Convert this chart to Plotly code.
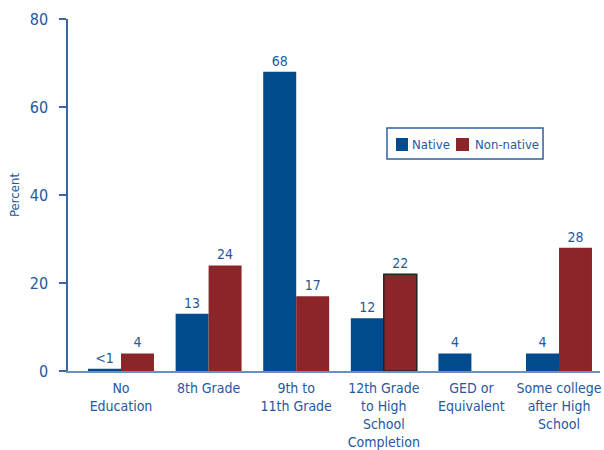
import plotly.graph_objects as go

categories = [
    "No<br>Education",
    "8th Grade",
    "9th to<br>11th Grade",
    "12th Grade<br>to High<br>School<br>Completion",
    "GED or<br>Equivalent",
    "Some college<br>after High<br>School",
]
native = [0.5, 13, 68, 12, 4, 4]
native_labels = ["<1", "13", "68", "12", "4", "4"]
non_native = [4, 24, 17, 22, None, 28]
non_native_labels = ["4", "24", "17", "22", "", "28"]
series_names = ["Native", "Non-native"]
y_ticks = [0, 20, 40, 60, 80]

BLUE = "#004a8d"
RED = "#8b2529"
TEXT = "#2458a0"
FONT = "DejaVu Sans Condensed, Liberation Sans Narrow, sans-serif"

xpos = list(range(len(categories)))

fig = go.Figure()
fig.add_trace(go.Bar(
    name=series_names[0], x=xpos, y=native, marker_color=BLUE,
    marker_line_width=0,
    text=native_labels, textposition="outside", cliponaxis=False,
    textfont=dict(color=TEXT, size=14, family=FONT),
))
fig.add_trace(go.Bar(
    name=series_names[1], x=xpos, y=non_native, marker_color=RED,
    marker_line=dict(width=[0, 0, 0, 1.5, 0, 0], color="#222222"),
    text=non_native_labels, textposition="outside", cliponaxis=False,
    textfont=dict(color=TEXT, size=14, family=FONT),
))

# Boxed legend: frame, colour swatches and series names
fig.add_shape(type="rect", xref="paper", yref="paper",
              x0=0.5996, x1=0.8929, y0=0.6023, y1=0.6903,
              line=dict(color="#2f5fa0", width=1.5), fillcolor="white")
swatches = [(0.6165, 0.6391, 0.6429, BLUE), (0.7293, 0.7538, 0.7613, RED)]
for name, (sx0, sx1, tx, col) in zip(series_names, swatches):
    fig.add_shape(type="rect", xref="paper", yref="paper",
                  x0=sx0, x1=sx1, y0=0.625, y1=0.6619,
                  line=dict(width=0), fillcolor=col)
    fig.add_annotation(xref="paper", yref="paper", x=tx, y=0.6435,
                       text=name, showarrow=False, xanchor="left", yanchor="middle",
                       font=dict(size=13, color=TEXT, family=FONT))

fig.update_layout(
    width=604, height=450,
    margin=dict(l=68, r=4, t=19, b=79),
    paper_bgcolor="white", plot_bgcolor="white",
    barmode="group", bargap=0.247, bargroupgap=0,
    font=dict(family=FONT, color=TEXT),
    showlegend=False,
)
fig.update_xaxes(
    range=[-0.605, 5.468], tickvals=xpos, ticktext=categories,
    automargin=False,
    showline=True, linecolor="#6b8fc0", linewidth=1.5,
    ticks="", showgrid=False, zeroline=False,
    ticklabelstandoff=3,
    tickfont=dict(size=14, color=TEXT, family=FONT),
)
fig.update_yaxes(
    range=[0, 80], tickvals=y_ticks,
    automargin=False,
    showline=True, linecolor="#3a66a8", linewidth=1.5,
    ticks="outside", ticklen=7, tickcolor="#3a66a8", tickwidth=1.5,
    showgrid=False, zeroline=False,
    ticklabelstandoff=8,
    tickfont=dict(size=16, color=TEXT, family=FONT),
    title=dict(text="Percent", font=dict(size=13, color=TEXT, family=FONT), standoff=7),
)

fig.write_html("out.html")
